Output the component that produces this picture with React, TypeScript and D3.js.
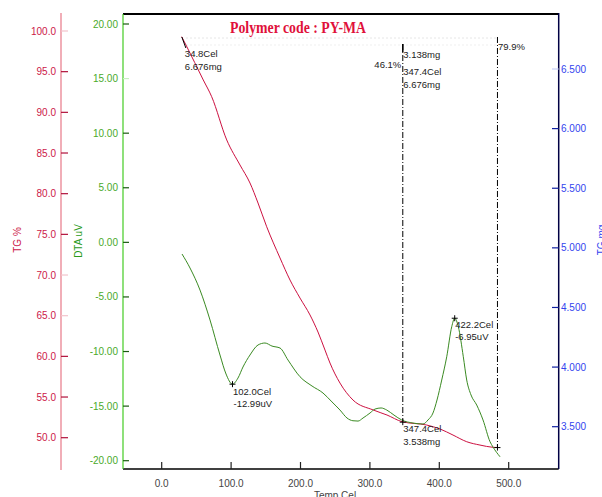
import React from "react";
import * as d3 from "d3";

const tempTicks = [0, 100, 200, 300, 400, 500];
const tgPctTicks = [100, 95, 90, 85, 80, 75, 70, 65, 60, 55, 50];
const dtaTicks = [20, 15, 10, 5, 0, -5, -10, -15, -20];
const mgTicks = [6.5, 6.0, 5.5, 5.0, 4.5, 4.0, 3.5];

const tgTemp = [28.8, 35.0, 59.9, 72.0, 93.7, 112.8, 127.2, 138.8, 151.3, 170.5, 184.9, 199.3, 213.7, 225.2, 235.3, 242.5, 256.9, 275.6, 304.9, 324.6, 346.3, 381.8, 401.0, 419.7, 439.5, 458.6, 477.4, 483.9];
const tgMg = [6.771, 6.701, 6.408, 6.268, 5.905, 5.695, 5.544, 5.376, 5.177, 4.915, 4.73, 4.579, 4.437, 4.294, 4.143, 4.034, 3.866, 3.724, 3.64, 3.598, 3.542, 3.514, 3.481, 3.43, 3.374, 3.346, 3.327, 3.325];

const dtaTemp = [29.3, 40.8, 55.2, 69.6, 84.0, 92.7, 102.0, 109.9, 117.1, 127.2, 138.8, 148.8, 158.9, 170.5, 182.0, 199.3, 216.6, 232.4, 245.4, 256.9, 267.0, 275.6, 282.9, 290.1, 300.2, 307.4, 316.1, 324.3, 334.7, 345.8, 362.1, 376.5, 383.7, 390.9, 396.7, 403.5, 410.7, 417.9, 422.2, 427.4, 434.6, 439.5, 445.7, 453.9, 463.0, 473.1, 477.4, 487.5];
const dtaUv = [-1.07, -2.35, -4.37, -7.11, -10.32, -12.06, -12.99, -12.43, -11.42, -10.32, -9.4, -9.22, -9.5, -9.68, -10.78, -12.31, -13.16, -13.8, -14.62, -15.36, -16.09, -16.34, -16.37, -16.09, -15.63, -15.27, -15.17, -15.36, -15.82, -16.27, -16.55, -16.64, -16.27, -15.63, -14.44, -12.61, -10.48, -7.73, -6.95, -7.73, -10.48, -12.61, -13.98, -14.9, -16.27, -18.26, -18.75, -19.64];

const dtaEventTemp = [102.0, 422.2];
const dtaEventUv = [-12.99, -6.95];
const tgEventTemp = [34.8, 347.4, 483.8];
const tgEventMg = [6.676, 3.538, 3.325];

const faintPct = [100, 70, 65];
const faintDta = [15];
const faintMg = [6.5];

const SANS = "'Liberation Sans', Arial, sans-serif";

export default function App() {
  const x = d3.scaleLinear().domain([0, 500]).range([161.7, 508.7]);
  const yPct = d3.scaleLinear().domain([100, 50]).range([31, 437.7]);
  const yDta = d3.scaleLinear().domain([20, -20]).range([24, 460.7]);
  const yMg = d3.scaleLinear().domain([6.5, 3.5]).range([69, 426.7]);

  const left = 123, right = 558.7, top = 14, bottom = 469;

  const tgLine = d3
    .line<number>()
    .x((_, i) => x(tgTemp[i]))
    .y((d) => yMg(d))
    .curve(d3.curveMonotoneX);
  const dtaLine = d3
    .line<number>()
    .x((_, i) => x(dtaTemp[i]))
    .y((d) => yDta(d))
    .curve(d3.curveMonotoneX);

  const cross = (cx: number, cy: number, key: string) => (
    <g key={key} stroke="#000" strokeWidth={1}>
      <line x1={cx - 3} x2={cx + 3} y1={cy} y2={cy} />
      <line x1={cx} x2={cx} y1={cy - 3} y2={cy + 3} />
    </g>
  );

  const ann = { fontFamily: SANS, fontSize: 9.5, fill: "#222" } as const;

  const sx = tgEventTemp.map((t) => x(t));
  const sy = tgEventMg.map((m) => yMg(m));
  const dx = dtaEventTemp.map((t) => x(t));
  const dy = dtaEventUv.map((v) => yDta(v));

  return (
    <svg
      width={602}
      height={497}
      style={{ position: "fixed", left: 0, top: 0, background: "#fff" }}
    >
      <rect x={0} y={0} width={602} height={497} fill="#fff" />
      {/* faint dotted guides */}
      <line x1={186} x2={497} y1={38} y2={38} stroke="#e6e6e6" strokeDasharray="2,2" />
      <line x1={186} x2={497} y1={45} y2={45} stroke="#efefef" strokeDasharray="2,2" />

      {/* frame */}
      <line x1={left} x2={right} y1={top} y2={top} stroke="#000" strokeWidth={2} />
      <line x1={left} x2={right} y1={bottom} y2={bottom} stroke="#000" strokeWidth={1.5} />

      {/* TG % axis */}
      <line x1={61} x2={61} y1={13} y2={470} stroke="#e87888" strokeWidth={1.2} />
      {tgPctTicks.map((t) => (
        <g key={"p" + t}>
          <line
            x1={61}
            x2={68}
            y1={yPct(t)}
            y2={yPct(t)}
            stroke={faintPct.includes(t) ? "#f2c4cc" : "#b0103a"}
            strokeWidth={1.2}
          />
          <text
            x={56}
            y={yPct(t) + 3.5}
            textAnchor="end"
            fontFamily={SANS}
            fontSize={10}
            fill="#cc1848"
          >
            {t.toFixed(1)}
          </text>
        </g>
      ))}
      <text
        transform="translate(21,240) rotate(-90)"
        textAnchor="middle"
        fontFamily={SANS}
        fontSize={10}
        fill="#cc1848"
      >
        TG %
      </text>

      {/* DTA axis */}
      <line x1={left} x2={left} y1={top} y2={bottom} stroke="#44cc22" strokeWidth={1.2} />
      {dtaTicks.map((t) => (
        <g key={"d" + t}>
          <line
            x1={left}
            x2={129}
            y1={yDta(t)}
            y2={yDta(t)}
            stroke={faintDta.includes(t) ? "#c8f0c0" : "#1a5a10"}
            strokeWidth={1.2}
          />
          <text
            x={118}
            y={yDta(t) + 3.5}
            textAnchor="end"
            fontFamily={SANS}
            fontSize={10}
            fill="#4aaa2a"
          >
            {t.toFixed(2)}
          </text>
        </g>
      ))}
      <text
        transform="translate(82,241) rotate(-90)"
        textAnchor="middle"
        fontFamily={SANS}
        fontSize={10}
        fill="#2a9a1a"
      >
        DTA uV
      </text>

      {/* TG mg axis */}
      <line x1={right} x2={right} y1={top - 1} y2={bottom} stroke="#000044" strokeWidth={1.5} />
      {mgTicks.map((t) => (
        <g key={"m" + t}>
          <line
            x1={552}
            x2={right}
            y1={yMg(t)}
            y2={yMg(t)}
            stroke={faintMg.includes(t) ? "#c8d0f8" : "#1020a0"}
            strokeWidth={1.2}
          />
          <text
            x={561}
            y={yMg(t) + 3.5}
            fontFamily={SANS}
            fontSize={10}
            fill="#3344ee"
          >
            {t.toFixed(3)}
          </text>
        </g>
      ))}
      <text
        transform="translate(605,240) rotate(-90)"
        textAnchor="middle"
        fontFamily={SANS}
        fontSize={10}
        fill="#3344ee"
      >
        TG mg
      </text>

      {/* x axis */}
      {tempTicks.map((t) => (
        <g key={"x" + t}>
          <line x1={x(t)} x2={x(t)} y1={bottom} y2={462} stroke="#222" strokeWidth={1.2} />
          <text
            x={x(t)}
            y={487}
            textAnchor="middle"
            fontFamily={SANS}
            fontSize={10}
            fill="#444"
          >
            {t.toFixed(1)}
          </text>
        </g>
      ))}
      <text x={335} y={499} textAnchor="middle" fontFamily={SANS} fontSize={10} fill="#444">
        Temp Cel
      </text>

      {/* title */}
      <text
        x={298}
        y={33}
        textAnchor="middle"
        fontFamily="'Liberation Serif', 'Times New Roman', serif"
        fontWeight="bold"
        fontSize={16}
        textLength={136}
        lengthAdjust="spacingAndGlyphs"
        fill="#e0103a"
      >
        Polymer code : PY-MA
      </text>

      {/* event lines */}
      <line x1={sx[1]} x2={sx[1]} y1={44} y2={sy[1]} stroke="#000" strokeDasharray="6,2,1,2" />
      <line x1={sx[1]} x2={sx[1]} y1={44} y2={52} stroke="#000" strokeWidth={1.5} />
      <line x1={sx[2]} x2={sx[2]} y1={37} y2={sy[2]} stroke="#000" strokeDasharray="6,2,1,2" />

      {/* curves */}
      <path d={tgLine(tgMg) || ""} fill="none" stroke="#cc1040" strokeWidth={1} />
      <path d={dtaLine(dtaUv) || ""} fill="none" stroke="#3a8a22" strokeWidth={1} />

      {/* markers */}
      <line x1={sx[0] - 4} x2={sx[0]} y1={sy[0] - 11} y2={sy[0]} stroke="#000" strokeWidth={1} />
      {cross(sx[1], sy[1], "c1")}
      {cross(sx[2], sy[2], "c2")}
      {cross(dx[0], dy[0], "c3")}
      {cross(dx[1], dy[1], "c4")}

      {/* annotations */}
      <text x={sx[0] - 1} y={57} {...ann}>{tgEventTemp[0].toFixed(1)}Cel</text>
      <text x={sx[0] - 1} y={70} {...ann}>{tgEventMg[0].toFixed(3)}mg</text>

      <text x={sx[1] - 1.5} y={68} textAnchor="end" {...ann}>46.1%</text>
      <text x={sx[1] + 0.5} y={58} {...ann}>{(tgEventMg[0] - tgEventMg[1]).toFixed(3)}mg</text>
      <text x={sx[1] + 0.5} y={75} {...ann}>{tgEventTemp[1].toFixed(1)}Cel</text>
      <text x={sx[1] + 0.5} y={88} {...ann}>{tgEventMg[0].toFixed(3)}mg</text>
      <text x={sx[1] + 0.5} y={sy[1] + 10} {...ann}>{tgEventTemp[1].toFixed(1)}Cel</text>
      <text x={sx[1] + 0.5} y={sy[1] + 23} {...ann}>{tgEventMg[1].toFixed(3)}mg</text>

      <text x={sx[2] + 0.5} y={50} {...ann}>79.9%</text>

      <text x={dx[0] + 0.5} y={dy[0] + 11} {...ann}>{dtaEventTemp[0].toFixed(1)}Cel</text>
      <text x={dx[0] + 1} y={dy[0] + 23} {...ann}>{dtaEventUv[0].toFixed(2)}uV</text>

      <text x={dx[1] + 0.5} y={dy[1] + 10} {...ann}>{dtaEventTemp[1].toFixed(1)}Cel</text>
      <text x={dx[1] + 0.5} y={dy[1] + 22} {...ann}>{dtaEventUv[1].toFixed(2)}uV</text>
    </svg>
  );
}
